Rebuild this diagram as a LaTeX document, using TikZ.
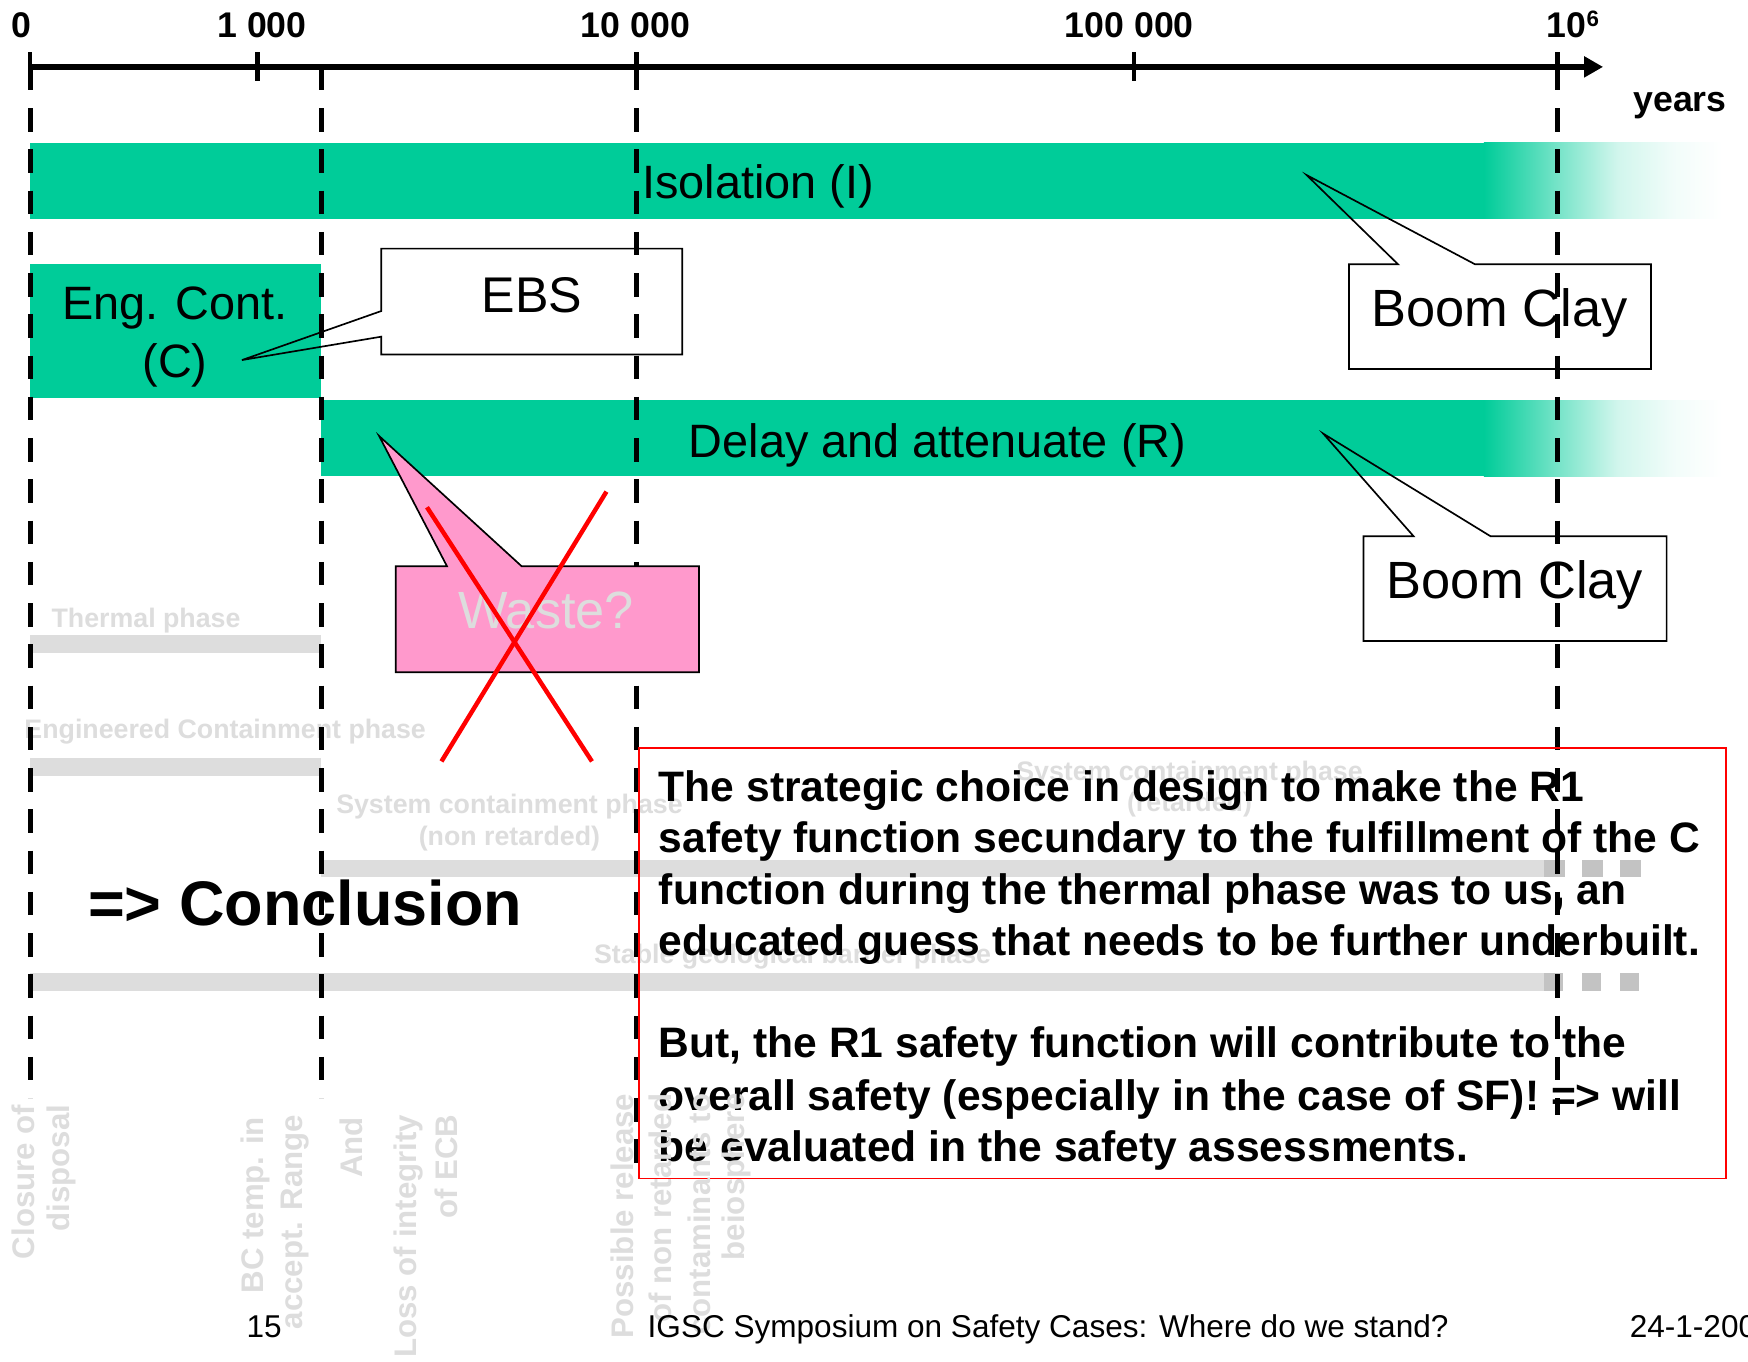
\documentclass[tikz,border=0pt]{standalone}
\usepackage{fontspec}
\setmainfont{Liberation Sans}
\usetikzlibrary{arrows.meta}

\definecolor{bargreen}{RGB}{0,204,153}
\definecolor{wastepink}{RGB}{255,153,204}
\definecolor{phasegray}{RGB}{221,221,221}
\definecolor{blockgray}{RGB}{195,195,195}
\definecolor{alertred}{RGB}{255,0,0}

% green function bars fade out towards the far future
\pgfdeclarehorizontalshading{barfade}{100bp}{%
  color(0bp)=(bargreen); color(25bp)=(bargreen);
  color(40bp)=(bargreen!55); color(53bp)=(bargreen!18);
  color(65bp)=(bargreen!5); color(75bp)=(white); color(100bp)=(white)}

\newcommand\setfsz[2]{\fontsize{#1}{#2}\selectfont}

\begin{document}
\begin{tikzpicture}[x=1pt, y=-1pt,
  every node/.style={inner sep=0pt, outer sep=0pt},
  greenbar/.style={fill=bargreen, draw=none},
  fadebar/.style={shading=barfade, draw=none},
  barlabel/.style={font=\setfsz{42}{52}, anchor=base},
  axisline/.style={line width=5.5pt, -{Triangle[length=17pt, width=18pt]}},
  tickmark/.style={line width=4pt},
  ticklabel/.style={font=\setfsz{32}{38}\bfseries, anchor=base},
  timeline/.style={line width=4.5pt, dash pattern=on 21pt off 16pt},
  calloutline/.style={draw=black, line width=1.5pt, line join=miter},
  calloutlabel/.style={font=\setfsz{47}{56}, anchor=base},
  phasebar/.style={fill=phasegray, draw=none},
  phaseblock/.style={fill=blockgray, draw=none},
  phaselabel/.style={text=phasegray, font=\setfsz{24}{28}\bfseries, anchor=base},
  eventlabel/.style={text=phasegray, font=\setfsz{28}{34}\bfseries, rotate=90, anchor=east},
  crossline/.style={draw=alertred, line width=4pt},
  notebox/.style={draw=alertred, line width=1.5pt},
  noteline/.style={font=\setfsz{38.2}{46}\bfseries, anchor=base west},
  footer/.style={font=\setfsz{28.3}{34}, anchor=base},
]
\fill[white] (0,0) rectangle (1568,1221);
\useasboundingbox (0,0) rectangle (1568,1221);

% ---------- safety function bars
\fill[greenbar] (27,128) rectangle (1332,196);
\shade[fadebar] (1331,128) rectangle (1545,196);
\node[barlabel] (iso) at (680,178) {Isolation (I)};

\fill[greenbar] (27,237) rectangle (288,357);
\node[barlabel] (engA) at (157,287) {Eng. Cont.};
\node[barlabel] (engB) at (157,339) {(C)};

\fill[greenbar] (288,359) rectangle (1332,427);
\shade[fadebar] (1331,359) rectangle (1545,427);
\node[barlabel] (delay) at (841,410) {Delay and attenuate (R)};

% ---------- phases
\fill[phasebar] (27,570) rectangle (288,586);
\fill[phasebar] (27,680) rectangle (288,696);
\fill[phasebar] (288,771) rectangle (1385,787);
\fill[phasebar] (27,873) rectangle (1385,889);
\foreach \x in {1385,1419,1453} {
  \fill[phaseblock] (\x,771) rectangle ++(19,16);
  \fill[phaseblock] (\x,873) rectangle ++(17,16);
}
\node[phaselabel] (thermal) at (131,563) {Thermal phase};
\node[phaselabel] (engphase) at (202,662) {Engineered Containment phase};
\node[phaselabel] (sysA) at (457,730) {System containment phase};
\node[phaselabel] (sysB) at (457,758) {(non retarded)};
\node[phaselabel] (retA) at (1067,700) {System containment phase};
\node[phaselabel] (retB) at (1067,728) {(retarded)};
\node[phaselabel] (stable) at (711,864) {Stable geological barrier phase};

% ---------- callouts without fill
\node[calloutlabel, font=\setfsz{45}{54}] (ebs) at (477,280) {EBS};
\coordinate (ebsTip) at (217,323);
\draw[calloutline] (342,279) -- (342,223) -- (612,223) -- (612,318)
  -- (342,318) -- (342,302) -- (ebsTip) -- cycle;

\node[calloutlabel] (clayA) at (1345,293) {Boom Clay};
\coordinate (clayATip) at (1172,157);
\draw[calloutline] (1254,237) -- (1210,237) -- (1210,331) -- (1481,331)
  -- (1481,237) -- (1323,237) -- (clayATip) -- cycle;

\node[calloutlabel] (clayB) at (1359,537) {Boom Clay};
\coordinate (clayBTip) at (1187,389);
\draw[calloutline] (1268,481) -- (1223,481) -- (1223,575) -- (1495,575)
  -- (1495,481) -- (1337,481) -- (clayBTip) -- cycle;

% ---------- time axis
\coordinate (a0) at (27,60);
\coordinate (aEnd) at (1438,60);
\draw[axisline] (a0) -- (aEnd);
\coordinate (t1) at (231,60);
\coordinate (tB) at (288,60);
\coordinate (t2) at (571,60);
\coordinate (t3) at (1017,60);
\coordinate (t4) at (1397,60);
\foreach \t in {a0,t1,t2,t3,t4}
  \draw[tickmark] ([yshift=13pt]\t) -- ([yshift=-13pt]\t);

\node[ticklabel] (lab0) at (19,34) {0};
\node[ticklabel] (lab1) at (235,34) {1 000};
\node[ticklabel] (lab2) at (570,34) {10 000};
\node[ticklabel] (lab3) at (1013,34) {100 000};
\node[ticklabel] (lab4) at (1411,34) {10\raisebox{0.32em}{\setfsz{20}{20}6}};
\node[ticklabel] (years) at (1507,100) {years};

% ---------- milestone lines
\coordinate (e0) at (27,985);
\coordinate (eB) at (288,985);
\coordinate (e2) at (571,1058);
\coordinate (e4) at (1397,1000);
\draw[timeline] (a0) -- (e0);
\draw[timeline] (tB) -- (eB);
\draw[timeline] (t2) -- (e2);
\draw[timeline] (t4) -- (e4);

% ---------- rejected waste callout
\coordinate (wasteTip) at (340,391);
\draw[calloutline, fill=wastepink] (401,508) -- (355,508) -- (355,603)
  -- (627,603) -- (627,508) -- (468,508) -- (wasteTip) -- cycle;
\node[calloutlabel, text=phasegray] (waste) at (490,564) {Waste?};
\coordinate (xA1) at (383,455); \coordinate (xA2) at (531,683);
\coordinate (xB1) at (544,441); \coordinate (xB2) at (396,683);
\draw[crossline] (xA1) -- (xA2);
\draw[crossline] (xB1) -- (xB2);

% ---------- conclusion
\node[notebox, minimum width=975pt, minimum height=386pt, anchor=north west] (note) at (573,671) {};
\node[noteline] (n1) at (591,719) {The strategic choice in design to make the R1};
\node[noteline] (n2) at (591,765) {safety function secundary to the fulfillment of the C};
\node[noteline] (n3) at (591,811) {function during the thermal phase was to us, an};
\node[noteline] (n4) at (591,857) {educated guess that needs to be further underbuilt.};
\node[noteline] (n5) at (591,949) {But, the R1 safety function will contribute to the};
\node[noteline] (n6) at (591,996) {overall safety (especially in the case of SF)! => will};
\node[noteline] (n7) at (591,1042) {be evaluated in the safety assessments.};

\node[font=\setfsz{56.5}{66}\bfseries, anchor=base west] (concl) at (79,830) {=> Conclusion};

% ---------- milestone events
\node[eventlabel] (ev1) at (21,991) {Closure of};
\node[eventlabel] (ev2) at (55,991) {disposal};
\node[eventlabel] (ev3) at (229,1002) {BC temp. in};
\node[eventlabel] (ev4) at (265,1000) {accept. Range};
\node[eventlabel] (ev5) at (315,1002) {And};
\node[eventlabel] (ev6) at (366,1000) {Loss of integrity};
\node[eventlabel] (ev7) at (400,1000) {of ECB};
\node[eventlabel] (ev8) at (558,981) {Possible release};
\node[eventlabel] (ev9) at (592,981) {of non retarded};
\node[eventlabel] (ev10) at (627,981) {contaminants to};
\node[eventlabel] (ev11) at (661,981) {beiosphere};

% ---------- footer
\node[footer] (page) at (237,1200) {15};
\node[footer, anchor=base west] (conf) at (581,1200) {IGSC Symposium on Safety Cases: Where do we stand?};
\node[footer, anchor=base west] (date) at (1462,1200) {24-1-2007};
\end{tikzpicture}
\end{document}
